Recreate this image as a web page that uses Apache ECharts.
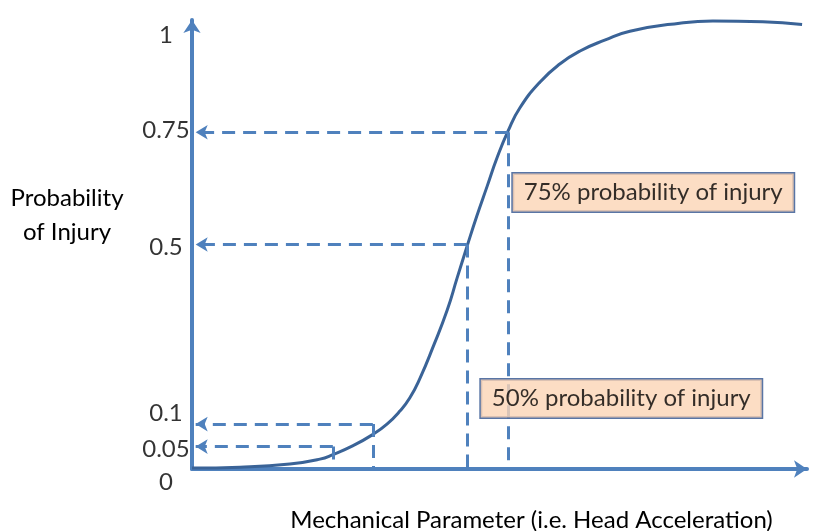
<!DOCTYPE html>
<html>
<head>
<meta charset="utf-8">
<script src="https://cdn.jsdelivr.net/npm/echarts@6/dist/echarts.min.js"></script>
<style>
html,body{margin:0;padding:0;background:#fff;}
#chart{width:813px;height:531px;}
</style>
</head>
<body>
<div id="chart"></div>
<script>
// Sigmoid-like injury risk curve
const curveX = [0, 7.8, 15.9, 20.8, 22.9, 26.2, 29.3, 31.7, 33.8, 35.4, 37.1, 39.2, 41.5, 43.1, 44.7, 46.3, 48.0, 49.6, 51.4, 53.3, 56.6, 59.8, 63.1, 67.1, 71.2, 79.3, 84.7, 92.8, 99.2];
const curveY = [0.002, 0.004, 0.011, 0.022, 0.032, 0.052, 0.076, 0.100, 0.129, 0.158, 0.203, 0.272, 0.354, 0.425, 0.495, 0.563, 0.630, 0.693, 0.753, 0.804, 0.862, 0.902, 0.931, 0.955, 0.975, 0.993, 0.998, 0.996, 0.990];

// Reference levels (probability) and the parameter values where they are marked
const levelY = [0.05, 0.1, 0.5, 0.75];
const levelX = [22.9, 29.4, 44.7, 51.4];

// Y tick labels
const tickValues = [0, 0.05, 0.1, 0.5, 0.75, 1];
const tickLabels = ['0', '0.05', '0.1', '0.5', '0.75', '1'];

// Annotation boxes
const noteText = ['75% probability of injury', '50% probability of injury'];
const noteX = [75.0, 69.8];
const noteY = [0.616, 0.157];

const blue = '#4F81BD';
const curveColor = '#3A6397';
const font = 'Lato, "Open Sans", sans-serif';
const fs = 24;

// hand-placed label nudges (pixels) as in the original figure
const labelNudge = [13, 3, -11, 3, -2, 15];
const labelAxisX = -4.23; // label column, in axis units left of the y axis

const markData = [];
levelY.forEach((y, i) => {
  markData.push([
    { coord: [levelX[i], y], symbol: 'none' },
    { coord: [0.6, y], symbol: 'arrow', symbolSize: [11, 12] }
  ]);
  markData.push([
    { coord: [levelX[i], y], symbol: 'none' },
    { coord: [levelX[i], 0], symbol: 'none' }
  ]);
});

const chart = echarts.init(document.getElementById('chart'));
chart.setOption({
  animation: false,
  backgroundColor: '#fff',
  title: {
    text: 'Probability\nof Injury',
    left: 62, top: 176, textAlign: 'center',
    textStyle: { fontFamily: font, fontSize: fs, fontWeight: 'normal', color: '#000', lineHeight: 34, align: 'center' }
  },
  grid: { left: 192, right: 6, top: 20, bottom: 62, outerBoundsMode: 'none', containLabel: false },
  xAxis: {
    type: 'value', min: 0, max: 100,
    name: 'Mechanical Parameter (i.e. Head Acceleration)',
    nameLocation: 'middle', nameGap: 51,
    nameTextStyle: { fontFamily: font, fontSize: fs, color: '#000', verticalAlign: 'middle', padding: [0, 0, 0, 64] },
    axisLine: { show: true, lineStyle: { color: blue, width: 4 }, symbol: ['none', 'arrow'], symbolSize: [13, 13] },
    axisTick: { show: false }, axisLabel: { show: false }, splitLine: { show: false }
  },
  yAxis: {
    type: 'value', min: 0, max: 1,
    axisLine: { show: true, lineStyle: { color: blue, width: 4 }, symbol: ['none', 'arrow'], symbolSize: [13, 13] },
    axisTick: { show: false },
    splitLine: { show: false },
    axisLabel: { show: false }
  },
  series: [
    {
      type: 'line', smooth: 0.5, clip: false, symbol: 'none',
      data: curveX.map((x, i) => [x, curveY[i]]),
      lineStyle: { color: curveColor, width: 3 },
      z: 3,
      markLine: {
        silent: true, animation: false,
        label: { show: false },
        lineStyle: { color: blue, width: 3, type: [13, 8], opacity: 1 },
        emphasis: { disabled: true },
        data: markData
      }
    },
    {
      // y tick labels, placed on the y scale
      type: 'scatter', symbolSize: 0, silent: true, clip: false, z: 5,
      data: tickValues.map((v, i) => ({
        value: [labelAxisX, v],
        label: { offset: [0, labelNudge[i]] }
      })),
      label: {
        show: true, position: 'inside',
        formatter: p => tickLabels[p.dataIndex],
        fontFamily: font, fontSize: fs, color: '#000'
      }
    },
    {
      type: 'scatter', symbolSize: 0, silent: true, z: 5,
      data: noteX.map((x, i) => [x, noteY[i]]),
      label: {
        show: true, position: 'inside',
        formatter: p => noteText[p.dataIndex],
        fontFamily: font, fontSize: fs, color: '#000',
        backgroundColor: '#FBD5B5', borderColor: '#2F528F', borderWidth: 1.5,
        padding: [8, 11, 6, 11]
      }
    }
  ]
});
</script>
</body>
</html>
